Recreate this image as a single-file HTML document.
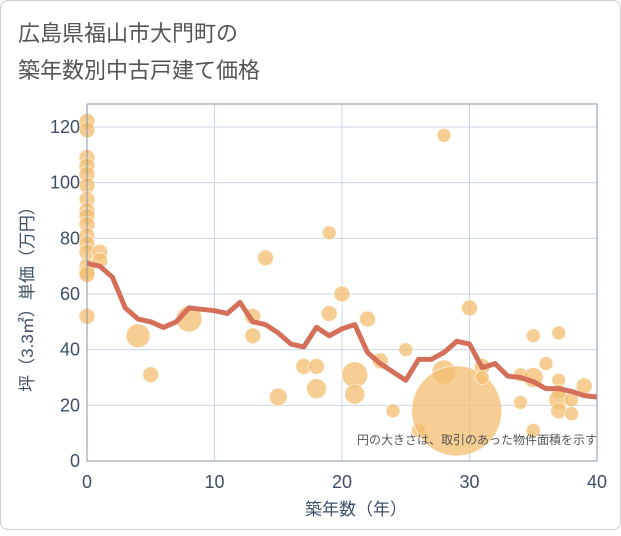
<!DOCTYPE html>
<html><head><meta charset="utf-8"><style>
body{margin:0;background:#fff;}
#card{position:absolute;left:0;top:0;width:619px;height:528px;border:1px solid #ccc;border-radius:8px;background:#fff;}
text{font-family:"Liberation Sans","Noto Sans CJK JP",sans-serif;}
</style></head><body>
<div id="card">
<svg id="chart" width="621" height="530">
<text x="17" y="40" font-size="22" fill="#555">広島県福山市大門町の</text>
<text x="17" y="77" font-size="22" fill="#555">築年数別中古戸建て価格</text>
<g id="grid"></g><g id="bubbles"></g><g id="line"></g><g id="axes"></g>
<text x="596" y="443" font-size="12" fill="#555" text-anchor="end">円の大きさは、取引のあった物件面積を示す</text>
<text x="355" y="514" font-size="17" fill="#3d4f66" text-anchor="middle">築年数（年）</text>
<text transform="translate(32,294) rotate(-90)" font-size="17" fill="#3d4f66" text-anchor="middle">坪（3.3㎡）単価（万円）</text>
</svg></div>
<script>
const xTicks=[0,10,20,30,40];
const yTicks=[0,20,40,60,80,100,120];
const lineAges=[0,1,2,3,4,5,6,7,8,9,10,11,12,13,14,15,16,17,18,19,20,21,22,23,24,25,26,27,28,29,30,31,32,33,34,35,36,37,38,39,40];
const lineValues=[71,70,66,55,51,50,48,50,55,54.5,54,53,57,50,49,46,42,41,48,45,47.5,49,39,35,32,29,36.5,36.5,39,43,42,33.5,35,30.5,30,28.5,26,26,25,23.5,23];
const bubbleAges=[0,0,0,0,0,0,0,0,0,0,0,0,0,0,0,0,0,1,1,4,5,8,13,13,14,15,17,18,18,19,19,20,21,21,22,23,24,25,26,28,28,29,30,31,31,34,34,35,35,35,36,37,37,37,37,37,38,38,39];
const bubbleValues=[122,119,109,106,103,99,94,90,88,85,81,78,75,70,68,67,52,75,72,45,31,51,52,45,73,23,34,34,26,82,53,60,31,24,51,36,18,40,11,117,32,18,55,34,30,31,21,45,30,11,35,46,29,25,22,18,22,17,27];
const bubbleSizes=[8,8,8,8,8,8,8,8,8,8,8,8,8,8,8,8,8,8,8,12,8,13,8,8,8,9,8,8,10,7,8,8,13,10,8,8,7,7,7,7,12,45,8,8,7,7,7,7,10,7,7,7,7,7,10,8,7,7,8];
const L=86,R=596,T=103,B=460;
const xs=v=>L+(v/40)*(R-L);
const ys=v=>B-(v/120)*(B-126);
const NS='http://www.w3.org/2000/svg';
function mk(tag,parent,attrs){const e=document.createElementNS(NS,tag);for(const k in attrs)e.setAttribute(k,attrs[k]);parent.appendChild(e);return e;}
const grid=document.getElementById('grid'),axes=document.getElementById('axes');
xTicks.forEach(t=>{
 const g=mk('line',grid,{x1:xs(t),x2:xs(t),y1:T,y2:B,stroke:'#c9d5e6','stroke-width':1});
 
 
 const tx=mk('text',axes,{x:xs(t),y:B+27,'font-size':18,fill:'#3d4f66','text-anchor':'middle'});
 tx.textContent=t;
 
 
});
yTicks.forEach(t=>{
 const g=mk('line',grid,{x1:L,x2:R,y1:ys(t),y2:ys(t),stroke:'#c9d5e6','stroke-width':1});
 
 
 const tx=mk('text',axes,{x:L-7,y:ys(t)+6,'font-size':18,fill:'#3d4f66','text-anchor':'end'});
 tx.textContent=t;
 
 
});
const frame=mk('rect',axes,{x:L,y:T,width:R-L,height:B-T,fill:'none',stroke:'#8a96a6','stroke-width':1});


const bg=document.getElementById('bubbles');
bubbleAges.forEach((a,i)=>{
 const c=mk('circle',bg,{cx:xs(a),cy:ys(bubbleValues[i]),r:bubbleSizes[i],fill:'#f3be6f','fill-opacity':0.75,stroke:'#fff','stroke-opacity':0.6,'stroke-width':1});
 
 
});
const pts=lineAges.map((a,i)=>xs(a)+','+ys(lineValues[i])).join(' ');
const pl=mk('polyline',document.getElementById('line'),{points:pts,fill:'none',stroke:'#d4705a','stroke-width':5,'stroke-linejoin':'round'});


</script>
</body></html>
